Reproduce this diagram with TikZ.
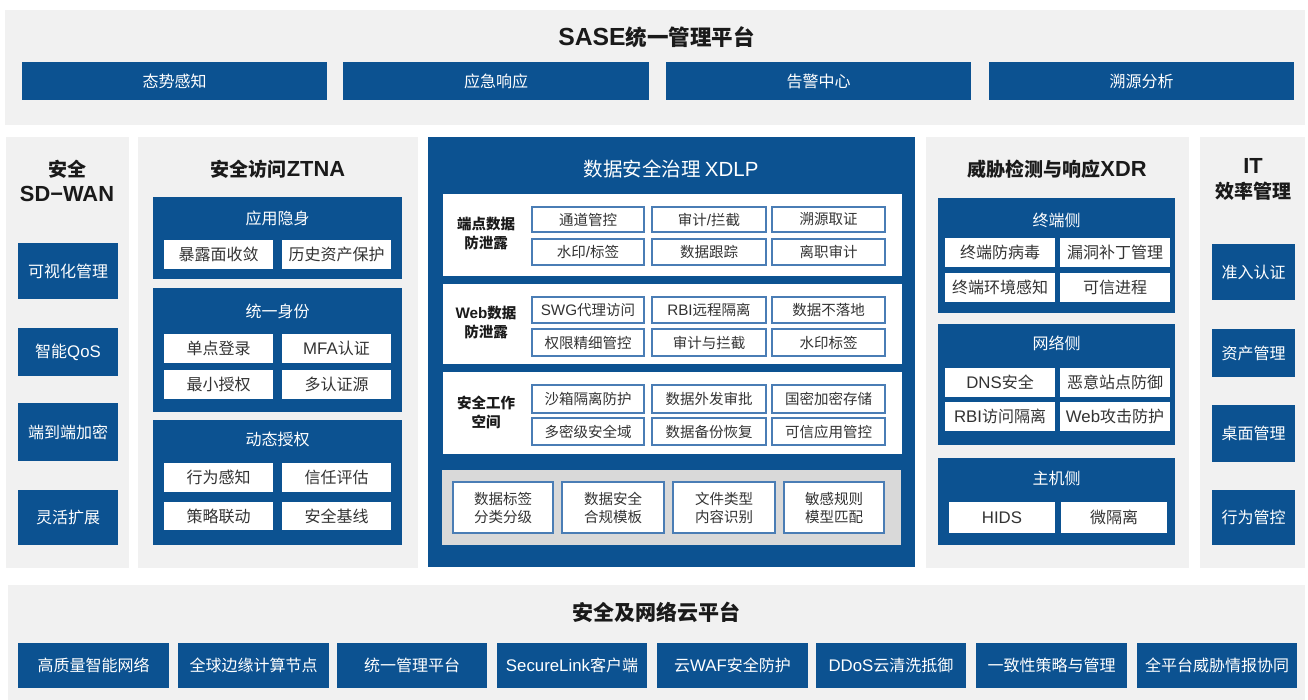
\documentclass[tikz,border=0pt]{standalone}
\usepackage{fontspec}
\setmainfont{Noto Sans CJK SC}
\newfontfamily\lat[Scale=1.05]{Liberation Sans}
\newfontfamily\latt[Scale=1.15]{Liberation Sans}
\definecolor{sblue}{HTML}{0C5291}
\definecolor{pgray}{HTML}{F1F1F1}
\definecolor{sgray}{HTML}{D9D9D9}
\definecolor{bline}{HTML}{4A7DB5}
\definecolor{ttxt}{HTML}{1A1A1A}
\definecolor{dtxt}{HTML}{333333}
\newcommand\bx[7]{\node[#2,minimum width={(#5-#3)*1pt},minimum height={(#6-#4)*1pt}] (#1) at ({(#3+#5)/2},{(#4+#6)/2}) {#7};}
\tikzset{
  base/.style={inner sep=0pt,outer sep=0pt,align=center},
  panel/.style={base,fill=pgray},
  bluepanel/.style={base,fill=sblue},
  secbox/.style={base,fill=white},
  graysec/.style={base,fill=sgray},
  bluebox/.style={base,fill=sblue,text=white,font=\fontsize{16}{19}\selectfont},
  whitebox/.style={base,fill=white,text=dtxt,font=\fontsize{16}{19}\selectfont},
  lbox/.style={base,fill=white,draw=bline,line width=1.1pt,text=dtxt,font=\fontsize{14.5}{18}\selectfont},
  ttl/.style={base,text=ttxt,font=\bfseries\fontsize{19}{24.5}\selectfont},
  bigttl/.style={base,text=ttxt,font=\bfseries\fontsize{21.5}{26}\selectfont},
  subttl/.style={base,text=white,font=\fontsize{16}{19}\selectfont},
  seclbl/.style={base,text=ttxt,font=\bfseries\fontsize{14.5}{19}\selectfont},
}
\begin{document}
\begin{tikzpicture}[x=1pt,y=-1pt]
\useasboundingbox[fill=white] (0,0) rectangle (1308,700);
% ---------- top platform
\bx{toppanel}{panel}{5}{10}{1305}{125}{}
\node[bigttl] (toptitle) at (656.5,37) {{\latt SASE}统一管理平台};
\bx{t1}{bluebox}{22}{62}{327}{100}{态势感知}
\bx{t2}{bluebox}{343}{62}{649}{100}{应急响应}
\bx{t3}{bluebox}{666}{62}{971}{100}{告警中心}
\bx{t4}{bluebox}{989}{62}{1294}{100}{溯源分析}
% ---------- SD-WAN
\bx{sdpanel}{panel}{6}{137}{129}{568}{}
\node[ttl] (sdtitle) at (67,181) {安全\\{\latt SD−WAN}};
\bx{sd1}{bluebox}{18}{243}{118}{299}{可视化管理}
\bx{sd2}{bluebox}{18}{328}{118}{376}{智能{\lat QoS}}
\bx{sd3}{bluebox}{18}{403}{118}{461}{端到端加密}
\bx{sd4}{bluebox}{18}{490}{118}{545}{灵活扩展}
% ---------- ZTNA
\bx{ztpanel}{panel}{138}{137}{418}{568}{}
\node[ttl] (zttitle) at (278,169) {安全访问{\latt ZTNA}};
\bx{zA}{bluepanel}{153}{197}{402}{279}{}
\node[subttl] (zAt) at (277.5,218) {应用隐身};
\bx{zA1}{whitebox}{164}{240}{273}{269}{暴露面收敛}
\bx{zA2}{whitebox}{282}{240}{391}{269}{历史资产保护}
\bx{zB}{bluepanel}{153}{288}{402}{412}{}
\node[subttl] (zBt) at (277.5,311) {统一身份};
\bx{zB1}{whitebox}{164}{334}{273}{363}{单点登录}
\bx{zB2}{whitebox}{282}{334}{391}{363}{{\lat MFA}认证}
\bx{zB3}{whitebox}{164}{370}{273}{399}{最小授权}
\bx{zB4}{whitebox}{282}{370}{391}{399}{多认证源}
\bx{zC}{bluepanel}{153}{420}{402}{545}{}
\node[subttl] (zCt) at (277.5,439) {动态授权};
\bx{zC1}{whitebox}{164}{463}{273}{492}{行为感知}
\bx{zC2}{whitebox}{282}{463}{391}{492}{信任评估}
\bx{zC3}{whitebox}{164}{502}{273}{530}{策略联动}
\bx{zC4}{whitebox}{282}{502}{391}{530}{安全基线}
% ---------- XDLP
\bx{xdpanel}{bluepanel}{428}{137}{915}{567}{}
\node[base,text=white,font=\fontsize{19.5}{24}\selectfont] (xdtitle) at (671,169) {数据安全治理 {\lat XDLP}};
\bx{s1}{secbox}{443}{194}{902}{276}{}
\node[seclbl] (s1l) at (486,233.5) {端点数据\\防泄露};
\bx{s1a}{lbox}{532}{207}{644}{232}{通道管控}
\bx{s1b}{lbox}{652}{207}{766}{232}{审计{\lat /}拦截}
\bx{s1c}{lbox}{772}{207}{885}{232}{溯源取证}
\bx{s1d}{lbox}{532}{239}{644}{265}{水印{\lat /}标签}
\bx{s1e}{lbox}{652}{239}{766}{265}{数据跟踪}
\bx{s1f}{lbox}{772}{239}{885}{265}{离职审计}
\bx{s2}{secbox}{443}{284}{902}{364}{}
\node[seclbl] (s2l) at (486,322.5) {{\lat Web}数据\\防泄露};
\bx{s2a}{lbox}{532}{297}{644}{323}{{\lat SWG}代理访问}
\bx{s2b}{lbox}{652}{297}{766}{323}{{\lat RBI}远程隔离}
\bx{s2c}{lbox}{772}{297}{885}{323}{数据不落地}
\bx{s2d}{lbox}{532}{329}{644}{356}{权限精细管控}
\bx{s2e}{lbox}{652}{329}{766}{356}{审计与拦截}
\bx{s2f}{lbox}{772}{329}{885}{356}{水印标签}
\bx{s3}{secbox}{443}{372}{902}{454}{}
\node[seclbl] (s3l) at (486,412.5) {安全工作\\空间};
\bx{s3a}{lbox}{532}{385}{644}{413}{沙箱隔离防护}
\bx{s3b}{lbox}{652}{385}{766}{413}{数据外发审批}
\bx{s3c}{lbox}{772}{385}{885}{413}{国密加密存储}
\bx{s3d}{lbox}{532}{418}{644}{445}{多密级安全域}
\bx{s3e}{lbox}{652}{418}{766}{445}{数据备份恢复}
\bx{s3f}{lbox}{772}{418}{885}{445}{可信应用管控}
\bx{s4}{graysec}{442}{470}{901}{545}{}
\bx{s4a}{lbox}{453}{482}{553}{533}{数据标签\\分类分级}
\bx{s4b}{lbox}{562}{482}{664}{533}{数据安全\\合规模板}
\bx{s4c}{lbox}{673}{482}{775}{533}{文件类型\\内容识别}
\bx{s4d}{lbox}{784}{482}{884}{533}{敏感规则\\模型匹配}
% ---------- XDR
\bx{xrpanel}{panel}{926}{137}{1189}{568}{}
\node[ttl] (xrtitle) at (1057,169) {威胁检测与响应{\latt XDR}};
\bx{xT}{bluepanel}{938}{198}{1175}{313}{}
\node[subttl] (xTt) at (1056.5,220) {终端侧};
\bx{xT1}{whitebox}{945}{238}{1055}{267}{终端防病毒}
\bx{xT2}{whitebox}{1060}{238}{1170}{267}{漏洞补丁管理}
\bx{xT3}{whitebox}{945}{273}{1055}{302}{终端环境感知}
\bx{xT4}{whitebox}{1060}{273}{1170}{302}{可信进程}
\bx{xN}{bluepanel}{938}{324}{1175}{445}{}
\node[subttl] (xNt) at (1056.5,343) {网络侧};
\bx{xN1}{whitebox}{945}{368}{1055}{397}{{\lat DNS}安全}
\bx{xN2}{whitebox}{1060}{368}{1170}{397}{恶意站点防御}
\bx{xN3}{whitebox}{945}{402}{1055}{431}{{\lat RBI}访问隔离}
\bx{xN4}{whitebox}{1060}{402}{1170}{431}{{\lat Web}攻击防护}
\bx{xH}{bluepanel}{938}{458}{1175}{545}{}
\node[subttl] (xHt) at (1056.5,478) {主机侧};
\bx{xH1}{whitebox}{949}{502}{1055}{533}{{\lat HIDS}}
\bx{xH2}{whitebox}{1061}{502}{1167}{533}{微隔离}
% ---------- IT
\bx{itpanel}{panel}{1200}{137}{1305}{568}{}
\node[ttl] (ittitle) at (1253,179.5) {{\latt IT}\\效率管理};
\bx{it1}{bluebox}{1212}{244}{1295}{300}{准入认证}
\bx{it2}{bluebox}{1212}{329}{1295}{377}{资产管理}
\bx{it3}{bluebox}{1212}{405}{1295}{462}{桌面管理}
\bx{it4}{bluebox}{1212}{490}{1295}{545}{行为管控}
% ---------- bottom platform
\bx{botpanel}{panel}{8}{585}{1305}{700}{}
\node[base,text=ttxt,font=\bfseries\fontsize{21}{25}\selectfont] (bottitle) at (656,612) {安全及网络云平台};
\bx{b1}{bluebox}{18}{643}{169}{688}{高质量智能网络}
\bx{b2}{bluebox}{178}{643}{329}{688}{全球边缘计算节点}
\bx{b3}{bluebox}{337}{643}{487}{688}{统一管理平台}
\bx{b4}{bluebox}{497}{643}{647}{688}{{\lat SecureLink}客户端}
\bx{b5}{bluebox}{657}{643}{808}{688}{云{\lat WAF}安全防护}
\bx{b6}{bluebox}{816}{643}{966}{688}{{\lat DDoS}云清洗抵御}
\bx{b7}{bluebox}{976}{643}{1127}{688}{一致性策略与管理}
\bx{b8}{bluebox}{1137}{643}{1297}{688}{全平台威胁情报协同}
\end{tikzpicture}
\end{document}
